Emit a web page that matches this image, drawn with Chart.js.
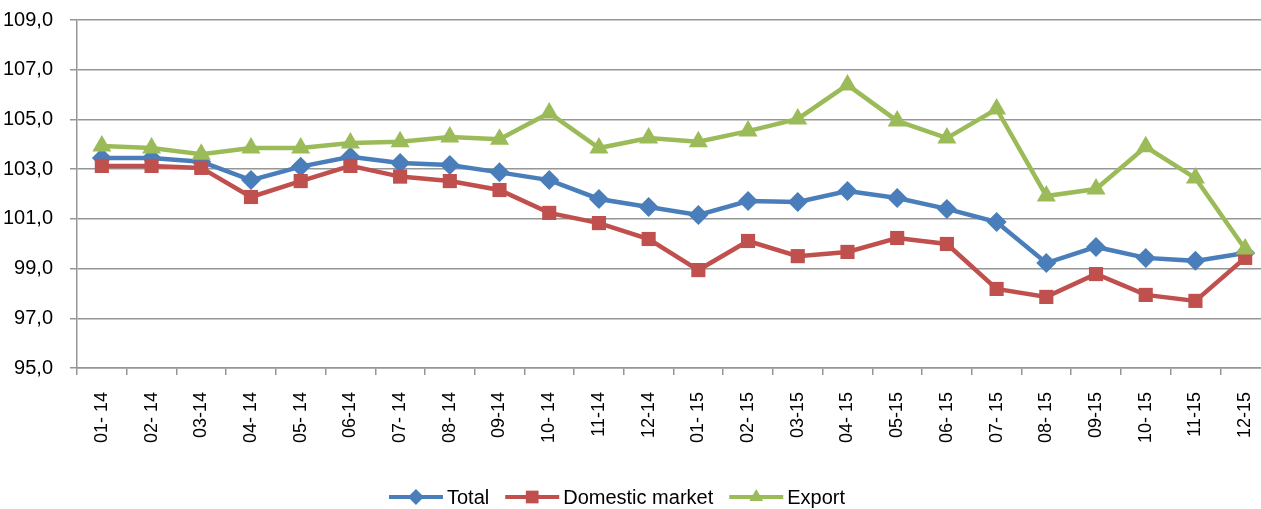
<!DOCTYPE html>
<html>
<head>
<meta charset="utf-8">
<script src="https://cdn.jsdelivr.net/npm/chart.js@4.4.0/dist/chart.umd.min.js"></script>
<style>
  html, body { margin: 0; padding: 0; overflow: hidden; background: #fff; }
  #wrap { width: 1285px; height: 509px; }
</style>
</head>
<body>
<div id="wrap"><canvas id="myChart"></canvas></div>
<script>
// data
var months = ["01- 14", "02- 14", "03-14", "04- 14", "05- 14", "06-14", "07- 14", "08- 14", "09-14", "10- 14", "11-14", "12-14",
              "01- 15", "02- 15", "03-15", "04- 15", "05-15", "06- 15", "07- 15", "08- 15", "09-15", "10- 15", "11-15", "12-15"];
var total    = [103.45, 103.45, 103.3, 102.56, 103.1, 103.5, 103.25, 103.17, 102.87, 102.56, 101.8, 101.48,
                101.16, 101.72, 101.68, 102.12, 101.84, 101.4, 100.87, 99.22, 99.87, 99.43, 99.31, 99.63];
var domestic = [103.13, 103.13, 103.05, 101.88, 102.52, 103.13, 102.7, 102.52, 102.16, 101.24, 100.83, 100.19,
                98.94, 100.11, 99.5, 99.67, 100.23, 99.99, 98.18, 97.86, 98.78, 97.94, 97.7, 99.43];
var exportV  = [103.93, 103.85, 103.6, 103.85, 103.85, 104.05, 104.1, 104.29, 104.2, 105.26, 103.85, 104.25,
                104.1, 104.53, 105.02, 106.39, 104.94, 104.25, 105.42, 101.92, 102.2, 103.9, 102.64, 99.79];
var seriesNames = ["Total", "Domestic market", "Export"];
var yMin = 95, yMax = 109, yStep = 2;

var fontFam = '"Liberation Sans", Arial, sans-serif';
var gridGray = '#969696';

// legend drawn under the plot, Excel style: line with marker in the middle
var lineLegend = {
  id: 'lineLegend',
  afterDraw: function (chart) {
    var ctx = chart.ctx;
    ctx.save();
    ctx.font = '20px ' + fontFam;
    ctx.textBaseline = 'middle';
    var lineLen = 54, txtGap = 4, itemGap = 16;
    var sets = chart.data.datasets;
    var width = 0;
    sets.forEach(function (ds, i) {
      width += lineLen + txtGap + ctx.measureText(ds.label).width;
      if (i < sets.length - 1) width += itemGap;
    });
    var x = 617 - width / 2, y = 497;
    sets.forEach(function (ds) {
      ctx.strokeStyle = ds.borderColor;
      ctx.fillStyle = ds.borderColor;
      ctx.lineWidth = 4;
      ctx.beginPath();
      ctx.moveTo(x, y);
      ctx.lineTo(x + lineLen, y);
      ctx.stroke();
      Chart.helpers.drawPoint(ctx, { pointStyle: ds.pointStyle, radius: ds.legendRadius, borderWidth: 0, rotation: 0 }, x + lineLen / 2, y);
      x += lineLen + txtGap;
      ctx.fillStyle = '#000';
      ctx.fillText(ds.label, x, y + 1);
      x += ctx.measureText(ds.label).width + itemGap;
    });
    ctx.restore();
  }
};

new Chart("myChart", {
  type: "line",
  data: {
    labels: months,
    datasets: [{
      label: seriesNames[0],
      data: total,
      borderColor: "#4A7EBB",
      backgroundColor: "#4A7EBB",
      pointStyle: "rectRot",
      pointRadius: 10,
      legendRadius: 8,
      order: 3
    }, {
      label: seriesNames[1],
      data: domestic,
      borderColor: "#C0504D",
      backgroundColor: "#C0504D",
      pointStyle: "rect",
      pointRadius: 10,
      legendRadius: 9,
      order: 2
    }, {
      label: seriesNames[2],
      data: exportV,
      borderColor: "#9BBB59",
      backgroundColor: "#9BBB59",
      pointStyle: "triangle",
      pointRadius: 11,
      legendRadius: 8,
      order: 1
    }]
  },
  options: {
    responsive: true,
    maintainAspectRatio: false,
    animation: false,
    layout: { autoPadding: false, padding: { top: 20, right: 15, bottom: 0, left: 0 } },
    elements: {
      line: { tension: 0, borderWidth: 4.5 },
      point: { borderWidth: 0, hoverRadius: 10 }
    },
    plugins: {
      legend: { display: false },
      tooltip: { enabled: false }
    },
    scales: {
      x: {
        offset: true,
        grid: { offset: true, drawOnChartArea: false, drawTicks: true, tickLength: 7, color: gridGray, lineWidth: 1.5 },
        border: { display: true, color: gridGray, width: 1.5 },
        ticks: {
          autoSkip: false, minRotation: 90, maxRotation: 90, padding: 17,
          color: '#000', font: { family: fontFam, size: 18 }
        },
        afterFit: function (scale) { scale.height = 141; }
      },
      y: {
        min: yMin, max: yMax,
        grid: { color: gridGray, lineWidth: 1.5, tickLength: 7 },
        border: { display: true, color: gridGray, width: 1.5 },
        ticks: {
          stepSize: yStep, padding: 17, color: '#000',
          font: { family: fontFam, size: 20 },
          callback: function (v) { return v.toFixed(1).replace('.', ','); }
        },
        afterFit: function (scale) {
          scale.width = 77;
          scale.paddingTop = 10;
          scale.paddingBottom = 0;
        }
      }
    }
  },
  plugins: [lineLegend]
});
</script>
</body>
</html>
